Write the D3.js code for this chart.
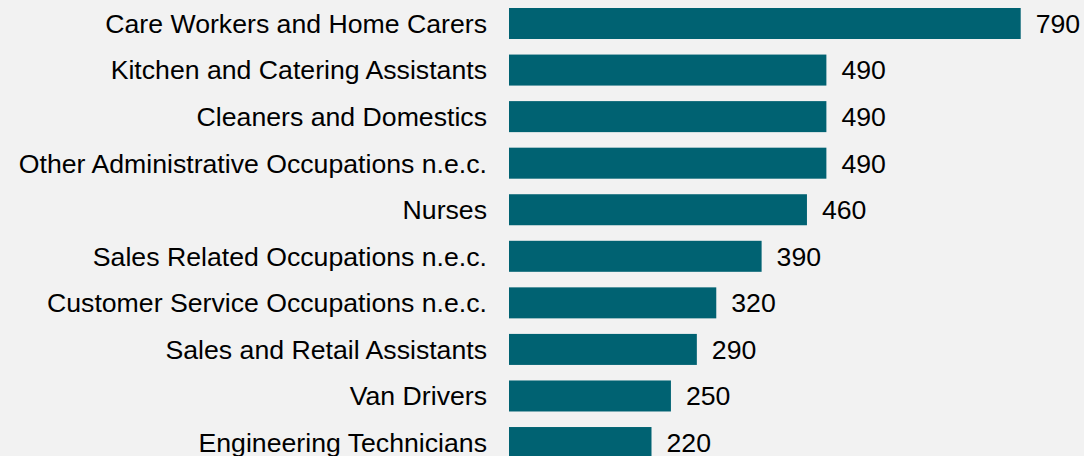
<!DOCTYPE html>
<html>
<head>
<meta charset="utf-8">
<script src="https://cdn.jsdelivr.net/npm/d3@7"></script>
<style>
html,body{margin:0;padding:0;background:#f2f2f2;}
svg{display:block;}
text{font-family:"Liberation Sans",Arial,sans-serif;fill:#000;}
</style>
</head>
<body>
<svg id="chart" width="1084" height="456"></svg>
<script>
const categories = [
  "Care Workers and Home Carers",
  "Kitchen and Catering Assistants",
  "Cleaners and Domestics",
  "Other Administrative Occupations n.e.c.",
  "Nurses",
  "Sales Related Occupations n.e.c.",
  "Customer Service Occupations n.e.c.",
  "Sales and Retail Assistants",
  "Van Drivers",
  "Engineering Technicians"
];
const values = [790, 490, 490, 490, 460, 390, 320, 290, 250, 220];

const data = categories.map((c, i) => ({cat: c, val: values[i]}));

const W = 1084, H = 456;
const svg = d3.select("#chart");
svg.append("rect").attr("width", W).attr("height", H).attr("fill", "#f2f2f2");

const x0 = 509;
const x = d3.scaleLinear().domain([0, 790]).range([x0, 1020.7]);
const y = d3.scaleBand().domain(categories).range([8, 458.04]).paddingInner(0.334).paddingOuter(0);

const g = svg.append("g");
g.selectAll("rect.bar").data(data).join("rect")
  .attr("class", "bar")
  .attr("x", x(0))
  .attr("y", d => y(d.cat))
  .attr("width", d => x(d.val) - x(0))
  .attr("height", y.bandwidth())
  .attr("fill", "#006272");

const fs = "26.67px";
g.selectAll("text.cat").data(data).join("text")
  .attr("class", "cat")
  .attr("x", x0 - 22)
  .attr("y", d => y(d.cat) + y.bandwidth() / 2)
  .attr("dy", "0.35em")
  .attr("text-anchor", "end")
  .style("font-size", fs)
  .text(d => d.cat);

g.selectAll("text.val").data(data).join("text")
  .attr("class", "val")
  .attr("x", d => x(d.val) + 15)
  .attr("y", d => y(d.cat) + y.bandwidth() / 2)
  .attr("dy", "0.35em")
  .attr("text-anchor", "start")
  .style("font-size", fs)
  .text(d => d.val);
</script>
</body>
</html>
